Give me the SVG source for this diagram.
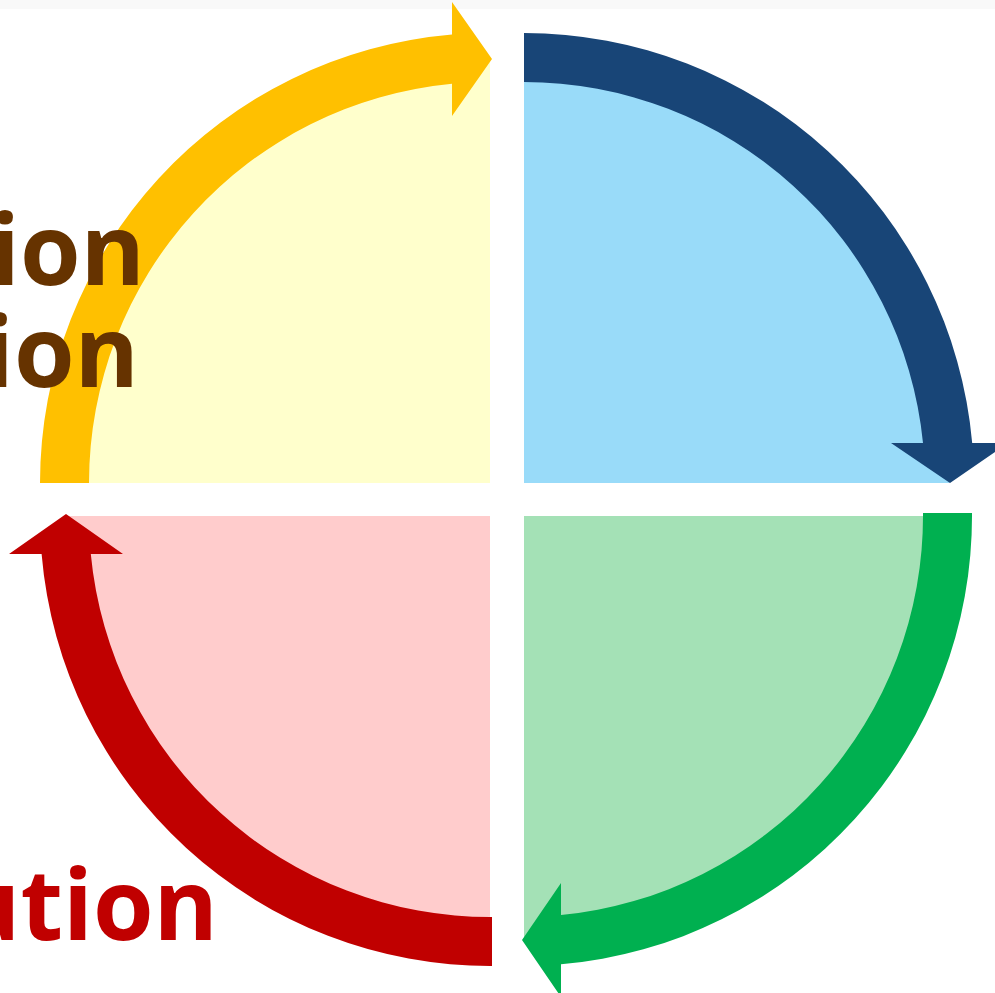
<svg xmlns="http://www.w3.org/2000/svg" width="995" height="993" viewBox="0 0 995 993">
  <style>
    .lbl { font-family: "Open Sans", "Liberation Sans", sans-serif; font-weight: 700; font-size: 98px; text-anchor: end; }
  </style>
  <rect x="0" y="0" width="995" height="993" fill="#ffffff"/>
  <rect x="0" y="0" width="995" height="9" fill="#f9f9f9"/>
  <g id="node-top-left">
    <path d="M490,483 L65,483 A425,425 0 0 1 490,58 Z" fill="#FFFFCC"/>
  </g>
  <g id="node-top-right">
    <path d="M524,483 L524,58 A425,425 0 0 1 949,483 Z" fill="#99DBF9"/>
  </g>
  <g id="node-bottom-right">
    <path d="M524,516 L949,516 A425,425 0 0 1 524,941 Z" fill="#A4E1B6"/>
  </g>
  <g id="node-bottom-left">
    <path d="M490,516 L490,941 A425,425 0 0 1 65,516 Z" fill="#FFCCCC"/>
  </g>
  <g id="connectors">
    <path d="M40,483 A450,450 0 0 1 452,34.6 L452,2 L492,59 L452,116 L452,83.8 A401,401 0 0 0 89,483 Z" fill="#FFC000"/>
    <path d="M524,33 A450,450 0 0 1 972.2,443 L1008,443 L950,483 L891,443 L923,443 A401,401 0 0 0 524,82 Z" fill="#184577"/>
    <path d="M972,513 A450,450 0 0 1 561,964.3 L561,997 L522,940 L561,883 L561,915.1 A401,401 0 0 0 923,513 Z" fill="#00B050"/>
    <path d="M492,966 A450,450 0 0 1 41.6,554 L9,554 L66,514 L123,554 L90.8,554 A401,401 0 0 0 492,917 Z" fill="#C00000"/>
  </g>
  <g id="label-top">
    <text class="lbl" x="145" y="285" fill="#663300">ion</text>
    <text class="lbl" x="139" y="387" fill="#663300">ion</text>
  </g>
  <g id="label-bottom">
    <text class="lbl" x="218" y="940" fill="#C00000">ution</text>
  </g>
</svg>
